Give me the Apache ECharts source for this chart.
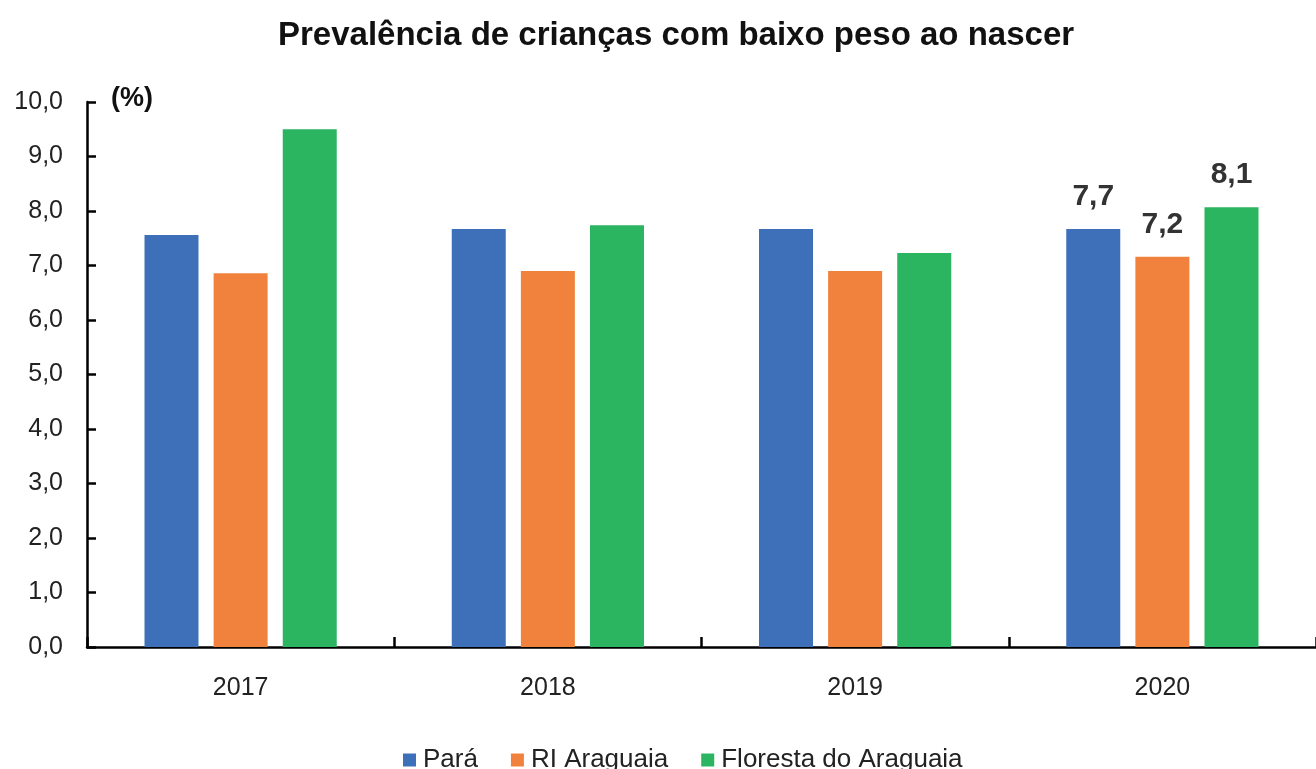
<!DOCTYPE html>
<html>
<head>
<meta charset="utf-8">
<script src="https://cdn.jsdelivr.net/npm/echarts@6/dist/echarts.min.js"></script>
<style>
  html, body { margin: 0; padding: 0; background: #fff; }
  #chart { width: 1316px; height: 769px; }
</style>
</head>
<body>
<div id="chart"></div>
<script>
var years = ['2017', '2018', '2019', '2020'];
var seriesNames = ['Pará', 'RI Araguaia', 'Floresta do Araguaia'];
var para = [7.56, 7.67, 7.67, 7.67];
var riAraguaia = [6.86, 6.9, 6.9, 7.16];
var floresta = [9.5, 7.74, 7.23, 8.07];
var labelled = [false, false, false, true]; // so 2020 tem rótulo
var colors = ['#3E70B9', '#F0823E', '#2CB560'];

var FONT = "'Liberation Sans', Arial, sans-serif";

function fmt(v) {
    return v.toFixed(1).replace('.', ',');
}

function build(values) {
    return values.map(function (v, i) {
        return labelled[i] ? { value: v, label: { show: true } } : v;
    });
}

var myChart = echarts.init(document.getElementById('chart'));

var option = {
    animation: false,
    color: colors,
    textStyle: { fontFamily: FONT },
    title: {
        text: 'Prevalência de crianças com baixo peso ao nascer',
        left: 273,
        top: 14,
        textStyle: { fontFamily: FONT, fontSize: 33, fontWeight: 'bold', color: '#111' }
    },
    legend: {
        data: seriesNames,
        top: 742,
        left: 398,
        itemWidth: 13,
        itemHeight: 13,
        itemGap: 33,
        icon: 'rect',
        textStyle: { fontFamily: FONT, fontSize: 26, color: '#222', padding: [0, 0, 0, 2] }
    },
    grid: { left: 87, width: 1239, top: 102, bottom: 122, containLabel: false },
    xAxis: {
        type: 'category',
        data: years,
        axisLine: { lineStyle: { color: '#000', width: 2.5 } },
        axisTick: { show: true, interval: 0, inside: true, length: 10, lineStyle: { color: '#000', width: 2.5 } },
        axisLabel: { fontFamily: FONT, fontSize: 25, color: '#222', margin: 29 }
    },
    yAxis: {
        type: 'value',
        min: 0,
        max: 10,
        interval: 1,
        name: '(%)',
        nameLocation: 'end',
        nameGap: 3,
        nameTextStyle: {
            fontFamily: FONT, fontSize: 27, fontWeight: 'bold', color: '#111',
            align: 'left', verticalAlign: 'middle', padding: [0, 0, 0, 24]
        },
        splitLine: { show: false },
        axisLine: { show: true, lineStyle: { color: '#000', width: 2.5 } },
        axisTick: { show: true, inside: true, length: 9, lineStyle: { color: '#000', width: 2.5 } },
        axisLabel: { fontFamily: FONT, fontSize: 25, color: '#222', margin: 24, formatter: fmt }
    },
    series: [para, riAraguaia, floresta].map(function (vals, k) {
        return {
            name: seriesNames[k],
            type: 'bar',
            barWidth: 54,
            barGap: '28%',
            data: build(vals),
            label: {
                show: false,
                position: 'top',
                distance: 17,
                fontFamily: FONT,
                fontSize: 30,
                fontWeight: 'bold',
                color: '#333',
                formatter: function (p) { return fmt(p.value); }
            }
        };
    })
};

myChart.setOption(option);
</script>
</body>
</html>
